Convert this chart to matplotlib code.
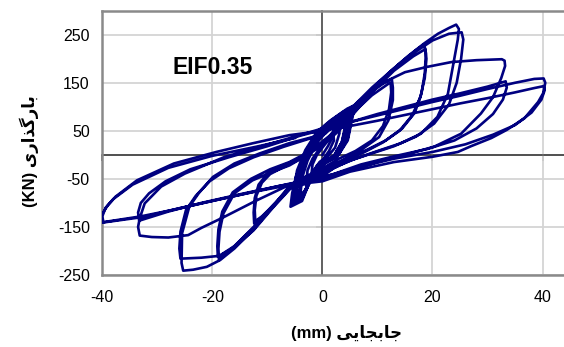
import numpy as np
import matplotlib.pyplot as plt

plt.rcParams['font.family'] = ['Liberation Sans', 'DejaVu Sans']
plt.rcParams['axes.unicode_minus'] = False

# axis ticks
x_ticks = [-40, -20, 0, 20, 40]
y_ticks = [-250, -150, -50, 50, 150, 250]

# small cycles around the origin (displacement mm, load kN)
small_x = [0, 1, 2,
           2.1, 1.2, 0.2, -1, -2,
           -1.8, -1, 0.2, 1.6, 2.6, 3,
           3.1, 2.3, 1, -0.5, -1.8, -2.6, -3,
           -2.7, -1.8, -0.2, 1.5, 2.9, 4,
           4.2, 3.5, 2.1, 0.2, -1.4, -2.5, -3.3, -4,
           -3.7, -2.7, -1.1, 0.9, 2.8, 4.1,
           4.3, 3.6, 2.2, 0.3, -1.3, -2.4, -3.4, -4.2,
           -4.0, -3.2, -1.6, 0.4, 2.4, 3.9, 4.6,
           4.8, 4.0, 2.5, 0.5, -1.4, -2.4, -3.4, -4.6,
           -4.6, -3.6, -2, 0, 2, 4, 5,
           5.1, 4.4, 2.8, 0.6, -1.5, -2.6, -3.6, -5,
           -4.9, -4.1, -2.7, -0.7, 1.4, 3.6, 5.0,
           5.2, 4.5, 2.9, 0.5, -1.6, -2.7, -3.7, -5.2,
           -4.7, -3.8, -2.4, -0.4, 1.7, 3.9, 5.2,
           5.4, 4.6, 2.9, 0.4, -1.7, -2.7, -3.7, -5.3,
           -5.2, -4.6, -3.1, -1, 1.5, 4.5, 5.6,
           5.6, 4.6, 2.7, 0.2, -1.9, -2.8, -3.7, -5.8]
small_y = [0, 18, 40,
           30, 8, -8, -22, -42,
           -20, 0, 18, 38, 55, 60,
           45, 15, -3, -15, -38, -52, -62,
           -32, -8, 18, 42, 62, 80,
           62, 26, -2, -16, -34, -60, -76, -82,
           -48, -12, 24, 50, 69, 84,
           64, 28, 0, -15, -33, -60, -80, -86,
           -52, -14, 22, 50, 70, 86, 92,
           72, 30, 0, -15, -34, -60, -84, -92,
           -55, -16, 24, 52, 73, 89, 96,
           76, 32, 1, -16, -36, -62, -86, -96,
           -62, -24, 14, 46, 70, 88, 97,
           78, 33, 0, -17, -37, -64, -90, -100,
           -60, -22, 18, 48, 71, 90, 98,
           82, 34, 0, -17, -38, -66, -92, -102,
           -70, -32, 10, 48, 72, 96, 102,
           86, 30, -4, -19, -40, -70, -96, -108]

# +/-12 mm cycles
c12_x = [-5.5, -4.8, -3.5, -1.5, 1, 3.5, 6, 8.5, 11, 12.6,
         12.8, 12.8, 12, 10.3, 7, 3.7, 0, -3, -5.8, -8, -10.5, -12.4,
         -12.5, -12.3, -11.6, -10, -8, -5, -2.5, 0,
         3, 6, 9, 12, 12.4,
         12.5, 12.1, 11, 9, 6, 3, 0, -3, -5.8, -8.5, -11, -12.2,
         -12.3, -12, -11, -9.5, -7, -4, -1]
c12_y = [-80, -45, -10, 25, 55, 80, 105, 128, 148, 158,
         140, 114, 72, 37, 10, -11, -30, -50, -66, -95, -125, -143,
         -120, -90, -62, -39, -26, -12, 5, 28,
         55, 92, 124, 148, 150,
         130, 95, 60, 30, 8, -8, -28, -45, -62, -100, -128, -138,
         -115, -85, -58, -40, -25, -8, 15]

# +/-18 mm cycles
c18_x = [2, 5, 7, 10, 14, 17, 18.5,
         18.8, 18.6, 18, 16.8, 14.5, 11.5, 8, 4, 1, -2, -5.8, -9, -12.5, -16, -18.8,
         -18.9, -18.7, -18, -16, -12.7, -9, -6, -3, 0,
         3, 6, 9, 13, 16.5, 18.7,
         18.9, 18.6, 17.8, 16.3, 14, 11, 7.5, 4, 1, -2, -5.8, -9, -12.5, -16, -19,
         -19.1, -18.9, -18.2, -16.3, -13, -9.5, -6, -3, 0]
c18_y = [45, 80, 110, 148, 190, 218, 230,
         212, 170, 128, 88, 55, 30, 10, -10, -30, -45, -66, -105, -150, -190, -219,
         -195, -160, -122, -80, -53, -35, -22, -2, 20,
         50, 90, 130, 175, 205, 220,
         200, 160, 120, 82, 50, 26, 5, -12, -30, -48, -68, -108, -152, -190, -212,
         -190, -155, -118, -78, -50, -30, -15, 3, 25]

# +/-25 mm cycles
c25_x = [3, 5, 8, 12, 15.5, 18.5, 21, 23, 24.3,
         24.8, 24.6, 23.7, 22.8, 20.9, 17.9, 14.2, 10, 6, 3, 0, -3, -5.8, -9, -12.5,
         -16, -18.6, -21, -23.5, -25.3,
         -25.6, -25.5, -24.2, -22.5, -19.9, -16, -11.4, -6.1, 0.5,
         3, 5.5, 9, 13, 17, 20, 23, 25.3,
         25.6, 25.2, 24.4, 23, 20.3, 17, 13, 9, 5, 2, 0, -3, -5.8, -9, -12.5,
         -16, -18.6, -22, -25.8,
         -26, -25.8, -24.8, -23, -20.5, -17, -12.5, -7, -2]
c25_y = [55, 90, 125, 170, 205, 232, 252, 264, 271,
         262, 240, 183, 127, 79, 44, 24, 8, -8, -22, -40, -55, -68, -108, -155,
         -195, -219, -233, -239, -241,
         -225, -163, -108, -80, -46, -18, 3, 24, 44,
         70, 100, 140, 180, 215, 238, 252, 255,
         240, 200, 150, 105, 65, 38, 18, 3, -12, -28, -45, -60, -70, -110, -157,
         -192, -210, -214, -216,
         -195, -160, -115, -85, -55, -28, -5, 17, 35]

# +/-33 mm cycles
c33_x = [2, 5, 8, 11, 15, 19, 23.4, 28, 32.6, 33.1,
         33.2, 32.5, 31, 28.8, 25.2, 20.3, 15, 10, 5, 0, -6.1, -12, -18, -22,
         -24.4, -28, -31, -33.2,
         -33.5, -33.2, -32.3, -29.3, -25, -17.7, -11, -5, 0,
         5, 10, 15, 20, 25, 30, 33.3,
         33.5, 32.8, 31, 28, 24, 19, 13, 7, 2, -3, -8, -15, -22, -28, -33.3,
         -33.5, -33, -31.5, -28.5, -24, -17, -10, -4, 0]
c33_y = [62, 95, 125, 150, 172, 183, 193, 197, 199, 196,
         185, 160, 120, 86, 44, 17, 0, -15, -32, -50, -63, -95, -130, -152,
         -167, -172, -171, -168,
         -150, -132, -101, -66, -39, -4, 18, 38, 55,
         68, 85, 100, 115, 128, 142, 153,
         140, 115, 85, 55, 30, 12, -3, -20, -40, -55, -65, -82, -100, -118, -137,
         -120, -100, -80, -55, -30, -5, 18, 40, 52]

# +/-40 mm cycles
c40_x = [5, 10, 15, 20, 25, 30, 35, 38.5, 40.2,
         40.5, 40.1, 39.2, 36.7, 33.5, 30.7, 27, 24.6, 20, 13, 5, 0, -6.1, -12,
         -19.3, -26, -32.4, -40,
         -40.2, -40, -39, -37.6, -33.7, -27, -19.3, -12.7, -6, 0,
         5, 10, 15, 20, 25, 30, 35, 38.5, 40.2,
         40.4, 39.8, 38, 35, 31, 26, 20, 13, 6, 0, -6, -13, -20, -27, -33, -39.8,
         -40, -39.4, -38, -34.5, -28, -20, -12, -5]
c40_y = [68, 82, 96, 110, 123, 137, 150, 158, 159,
         150, 128, 110, 76, 52, 35, 18, 6, -4, -15, -35, -55, -63, -76,
         -94, -111, -129, -141,
         -130, -122, -105, -87, -53, -18, 6, 24, 41, 50,
         60, 71, 83, 95, 107, 118, 130, 139, 143,
         135, 115, 88, 62, 42, 22, 6, -8, -27, -47, -60, -78, -96, -114, -128, -140,
         -128, -110, -92, -62, -27, -2, 17, 35]

disp = np.concatenate([small_x, c12_x, c18_x, c25_x, c33_x, c40_x])
load = np.concatenate([small_y, c12_y, c18_y, c25_y, c33_y, c40_y])

x_lo, x_hi = -40, 43.9
y_lo, y_hi = -250, 300

fig = plt.figure(figsize=(5.64, 3.47), dpi=100)
ax = fig.add_axes([0.1814, 0.2075, 0.8186, 0.7617])

ax.plot(disp, load, color='#000080', lw=1.9, solid_joinstyle='round', zorder=3)

ax.set_xlim(x_lo, x_hi)
ax.set_ylim(y_lo, y_hi)
ax.set_xticks(x_ticks)
ax.set_yticks(y_ticks)
ax.tick_params(length=0, labelsize=11.5, colors='black')
ax.tick_params(axis='x', pad=11)
ax.tick_params(axis='y', pad=9)
ax.grid(True, color='#d4d4d4', lw=1.3)
ax.set_axisbelow(True)

for side in ['left', 'bottom', 'top']:
    ax.spines[side].set_color('#8a8a8a')
    ax.spines[side].set_linewidth(1.8)
ax.spines['right'].set_visible(False)

# zero axes with small ticks
ax.axvline(0, color='#505050', lw=1.2, zorder=1.5)
ax.axhline(0, color='#505050', lw=1.2, zorder=1.5)
secy = ax.secondary_yaxis((0 - x_lo) / (x_hi - x_lo))
secy.set_yticks(y_ticks)
secy.tick_params(axis='y', length=4, width=1.1, color='#505050', labelleft=False, labelright=False)
secx = ax.secondary_xaxis((0 - y_lo) / (y_hi - y_lo))
secx.set_xticks(x_ticks)
secx.tick_params(axis='x', length=4, width=1.1, color='#505050', labelbottom=False, labeltop=False)
for sec in [secx, secy]:
    for sp in sec.spines.values():
        sp.set_color('#505050')
        sp.set_linewidth(1.2)

ax.text(-20, 181, 'EIF0.35', fontsize=16.5, fontweight='bold', ha='center', va='center')

# Persian labels in presentation forms, visual order
fig.text(346.7 / 564, 1 - 333 / 347, '(mm) \ufbfd\ufbfe\ufe8e\ufea0\ufe91\ufe8e\ufe9f',
         fontsize=12, fontweight='bold', ha='center', va='center')
fig.text(29 / 564, 1 - 151 / 347, '(KN) \ufbfc\ufead\ufe8d\ufeac\ufb94\ufead\ufe8e\ufe91',
         fontsize=12, fontweight='bold', ha='center', va='center', rotation=90)

fig.savefig('out.png', dpi=100)
